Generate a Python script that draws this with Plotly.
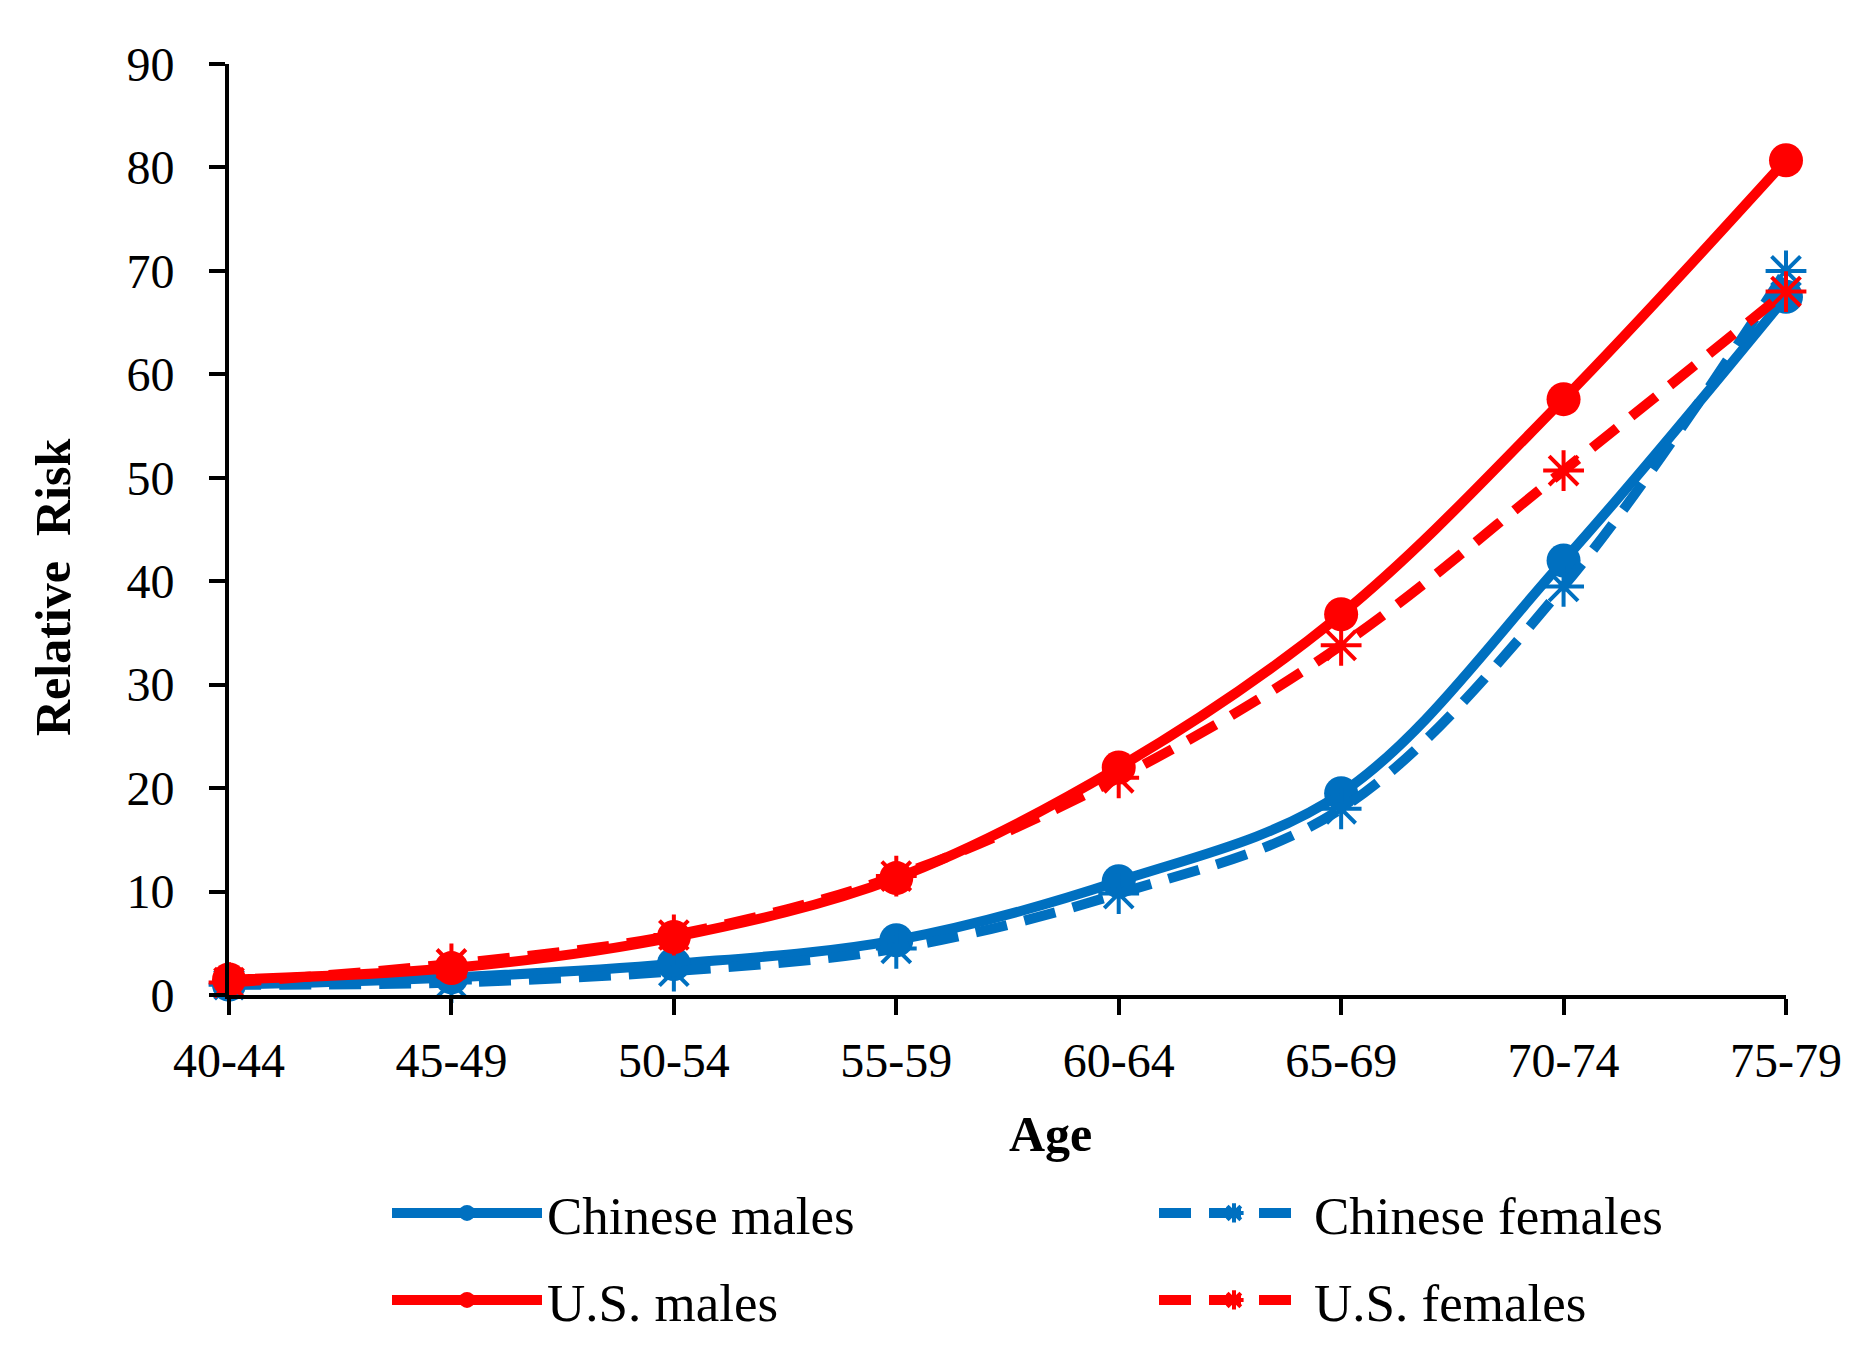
import plotly.graph_objects as go

ages = ["40-44", "45-49", "50-54", "55-59", "60-64", "65-69", "70-74", "75-79"]
chinese_males = [1.0, 1.7, 3.0, 5.3, 11.0, 19.5, 42.0, 67.5]
chinese_females = [1.0, 1.2, 2.3, 4.5, 9.8, 18.0, 39.5, 70.0]
us_males = [1.5, 2.6, 5.6, 11.3, 22.0, 36.8, 57.6, 80.7]
us_females = [1.2, 3.0, 5.8, 11.5, 21.0, 33.8, 50.7, 68.0]
y_ticks = [0, 10, 20, 30, 40, 50, 60, 70, 80, 90]

BLUE = "#0070C0"
RED = "#FF0000"
FONT = "Liberation Serif"

# plot area in pixels
L, R, T, B = 221, 90, 56, 366
W, H = 1868, 1353
PW = W - L - R
PH = H - T - B

def px(xp):
    return (xp - L) / PW

def py(yp):
    return (H - B - yp) / PH

x_idx = list(range(len(ages)))

fig = go.Figure()

def add_series(name, values, color, dashed, legend):
    if dashed:
        marker = dict(symbol="asterisk-open", size=34, color=color,
                      line=dict(color=color, width=4))
        line = dict(color=color, width=10, dash="32px,18px", shape="spline", smoothing=1)
    else:
        marker = dict(symbol="circle", size=34, color=color)
        line = dict(color=color, width=10, shape="spline", smoothing=1)
    fig.add_trace(go.Scatter(x=x_idx, y=values, name=name, mode="lines+markers",
                             line=line, marker=marker, cliponaxis=False, legend=legend))

add_series("Chinese males", chinese_males, BLUE, False, "legend")
add_series("Chinese females", chinese_females, BLUE, True, "legend2")
add_series("U.S. males", us_males, RED, False, "legend3")
add_series("U.S. females", us_females, RED, True, "legend4")

def leg(xline, ycenter):
    return dict(orientation="v", x=px(xline - 14), xanchor="left", y=py(ycenter),
                yanchor="middle", font=dict(family=FONT, size=53, color="black"),
                itemwidth=150, bgcolor="rgba(0,0,0,0)")

fig.update_layout(
    width=W, height=H,
    paper_bgcolor="white", plot_bgcolor="white",
    margin=dict(l=L, r=R, t=T, b=B, autoexpand=False),
    font=dict(family=FONT, color="black", size=48),
    showlegend=True,
    legend=leg(393, 1205),
    legend2=leg(1160, 1205),
    legend3=leg(393, 1292),
    legend4=leg(1160, 1292),
    xaxis=dict(range=[0, 7], tickmode="array", tickvals=x_idx, ticktext=ages,
               showgrid=False, zeroline=False, showline=True, linecolor="black",
               linewidth=4, ticks="outside", ticklen=16, tickwidth=4, tickcolor="black",
               tickfont=dict(family=FONT, size=48), ticklabelstandoff=4),
    yaxis=dict(range=[0, 90], tickmode="array", tickvals=y_ticks,
               showgrid=False, zeroline=False, showline=True, linecolor="black",
               linewidth=4, ticks="outside", ticklen=16, tickwidth=4, tickcolor="black",
               tickfont=dict(family=FONT, size=48), ticklabelstandoff=25),
    annotations=[
        dict(text="<b>Age</b>", xref="paper", yref="paper", x=px(1042), y=py(1126),
             xanchor="center", yanchor="middle", showarrow=False,
             font=dict(family=FONT, size=50, color="black")),
        dict(text="<b>Relative  Risk</b>", xref="paper", yref="paper", x=px(45), y=py(580),
             xanchor="center", yanchor="middle", showarrow=False,
             textangle=-90, font=dict(family=FONT, size=50, color="black")),
    ],
)

fig.write_html("out.html")
